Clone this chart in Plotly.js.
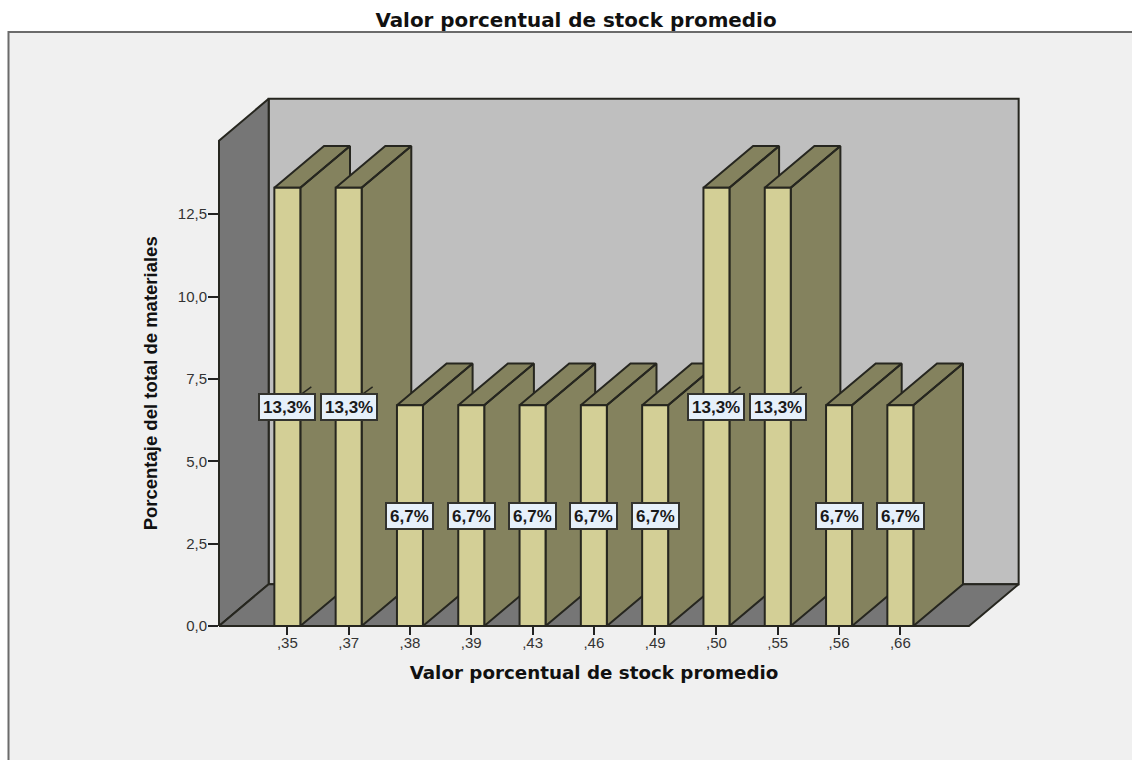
<!DOCTYPE html>
<html>
<head>
<meta charset="utf-8">
<script src="https://cdn.plot.ly/plotly-3.0.1.min.js"></script>
<style>html,body{margin:0;padding:0;background:#fff}#chart{width:1132px;height:760px}</style>
</head>
<body>
<div id="chart"></div>
<script>
// Valor porcentual de stock promedio: share of materials per value
const categories = [",35", ",37", ",38", ",39", ",43", ",46", ",49", ",50", ",55", ",56", ",66"];
const percents = [13.3, 13.3, 6.7, 6.7, 6.7, 6.7, 6.7, 13.3, 13.3, 6.7, 6.7];
const yTicks = [0, 2.5, 5, 7.5, 10, 12.5];

const chartTitle = "Valor porcentual de stock promedio";
const yTitle = "Porcentaje del total de materiales";

// Front plane of the extruded box, and how far it recedes, in axis units
const xRange = [-1.115, 11.12];
const yRange = [0, 14.73];
const depthX = 0.81;
const depthY = 1.27;
const barWidth = 0.424;

const edge = "#26261f";
const wallDark = "#767676";
const wallBack = "#bfbfbf";
const barFront = "#d3cf96";
const barSide = "#84825e";
const panel = "#f0f0f0";

// Pixel layout: the front plane inside a wider drawing area that also holds the depth
const frontW = 750, frontH = 485.8, pad = 4;
const margin = {l: 215, r: 110, t: 95, b: 129.5, pad: 0};
const plotW = 1132 - margin.l - margin.r;
const plotH = 760 - margin.t - margin.b;
const unitX = (xRange[1] - xRange[0]) / frontW;
const unitY = (yRange[1] - yRange[0]) / frontH;

const idx = categories.map((_, i) => i);
const poly = (xs, ys, fill) => ({
  type: "scatter", mode: "lines", x: xs, y: ys, fill: "toself", fillcolor: fill,
  line: {color: edge, width: 2}, hoverinfo: "skip", showlegend: false
});

const [x0, x1] = xRange;
const yTop = yRange[1];

// Room walls behind the bars
const traces = [
  poly([x0 + depthX, x1 + depthX, x1 + depthX, x0 + depthX, x0 + depthX],
       [depthY, depthY, yTop + depthY, yTop + depthY, depthY], wallBack),
  poly([x0, x0 + depthX, x0 + depthX, x0, x0],
       [0, depthY, yTop + depthY, yTop, 0], wallDark),
  poly([x0, x1, x1 + depthX, x0 + depthX, x0],
       [0, 0, depthY, depthY, 0], wallDark)
];

// Side and top faces of each bar, painted left to right so neighbours overlap correctly
idx.forEach(i => {
  const l = i - barWidth / 2, r = i + barWidth / 2, v = percents[i];
  traces.push(poly(
    [r, r + depthX, r + depthX, r, r, null, l, l + depthX, r + depthX, r, l],
    [0, depthY, v + depthY, v, 0, null, v, v + depthY, v + depthY, v, v],
    barSide));
  // Short leader stub above the label on the tall bars
  if (v > 10) {
    traces.push({
      type: "scatter", mode: "lines",
      x: [r, r + 11 * unitX], y: [v / 2 + 12 * unitY, v / 2 + 20 * unitY],
      line: {color: edge, width: 1.5}, hoverinfo: "skip", showlegend: false
    });
  }
});

// Front faces live on the second axis pair, which is drawn above the first
traces.push({
  type: "bar", x: idx, y: percents, width: barWidth, xaxis: "x2", yaxis: "y2",
  marker: {color: barFront, line: {color: edge, width: 2}},
  cliponaxis: false, hoverinfo: "skip", showlegend: false
});

const labelFont = {family: "Liberation Sans", size: 17, color: "#1a1a1a", weight: "bold"};
const annotations = idx.map(i => ({
  x: i, y: percents[i] / 2, xref: "x2", yref: "y2", showarrow: false,
  text: percents[i].toFixed(1).replace(".", ",") + "%",
  font: labelFont, bgcolor: "#e6f0fa", bordercolor: "#33332e", borderwidth: 2,
  borderpad: 3, height: 18, align: "center", valign: "middle"
}));

const tickFont = {family: "Liberation Sans", size: 15, color: "#333"};

const layout = {
  width: 1132, height: 760, margin, showlegend: false, hovermode: false,
  separators: ",.", paper_bgcolor: "#ffffff", plot_bgcolor: "rgba(0,0,0,0)",
  title: {
    text: chartTitle, x: 576 / 1132, xref: "container", xanchor: "center",
    y: 1 - 20 / 760, yref: "container", yanchor: "middle",
    font: {family: "DejaVu Sans", size: 19.9, weight: "bold", color: "#111"}
  },
  // Axes for walls and side faces, spanning the whole drawing area
  xaxis: {
    domain: [0, 1], visible: false,
    range: [x0 - pad * unitX, x0 + (plotW - pad) * unitX]
  },
  yaxis: {
    domain: [0, 1], visible: false,
    range: [-pad * unitY, (plotH - pad) * unitY]
  },
  // Axes for the front faces, ticks and titles, spanning only the front plane
  xaxis2: {
    anchor: "y2", domain: [pad / plotW, (pad + frontW) / plotW], range: xRange,
    tickvals: idx, ticktext: categories, ticks: "outside", ticklen: 8, ticklabelstandoff: -5,
    tickwidth: 2, tickcolor: "#222", showgrid: false, zeroline: false, showline: false,
    tickfont: tickFont,
    title: {text: chartTitle, standoff: 16,
            font: {family: "DejaVu Sans", size: 18.3, weight: "bold", color: "#111"}}
  },
  yaxis2: {
    anchor: "x2", domain: [pad / plotH, (pad + frontH) / plotH], range: yRange,
    tickvals: yTicks, tickformat: ".1f", ticks: "outside", ticklen: 10, ticklabelstandoff: -2,
    tickwidth: 2, tickcolor: "#222", showgrid: false, zeroline: false, showline: false,
    tickfont: tickFont,
    title: {text: yTitle, standoff: 15,
            font: {family: "Liberation Sans", size: 18.5, weight: "bold", color: "#111"}}
  },
  annotations,
  shapes: [{
    // Grey chart panel, running off the right and bottom of the page
    type: "rect", layer: "below", xref: "paper", yref: "paper",
    x0: (8.5 - margin.l) / plotW, x1: (1140 - margin.l) / plotW,
    y0: -(margin.b + 10) / plotH, y1: (760 - margin.b - 32) / plotH,
    fillcolor: panel, line: {color: "#6b6b6b", width: 2}
  }]
};

Plotly.newPlot("chart", traces, layout, {displayModeBar: false, staticPlot: true});
</script>
</body>
</html>
